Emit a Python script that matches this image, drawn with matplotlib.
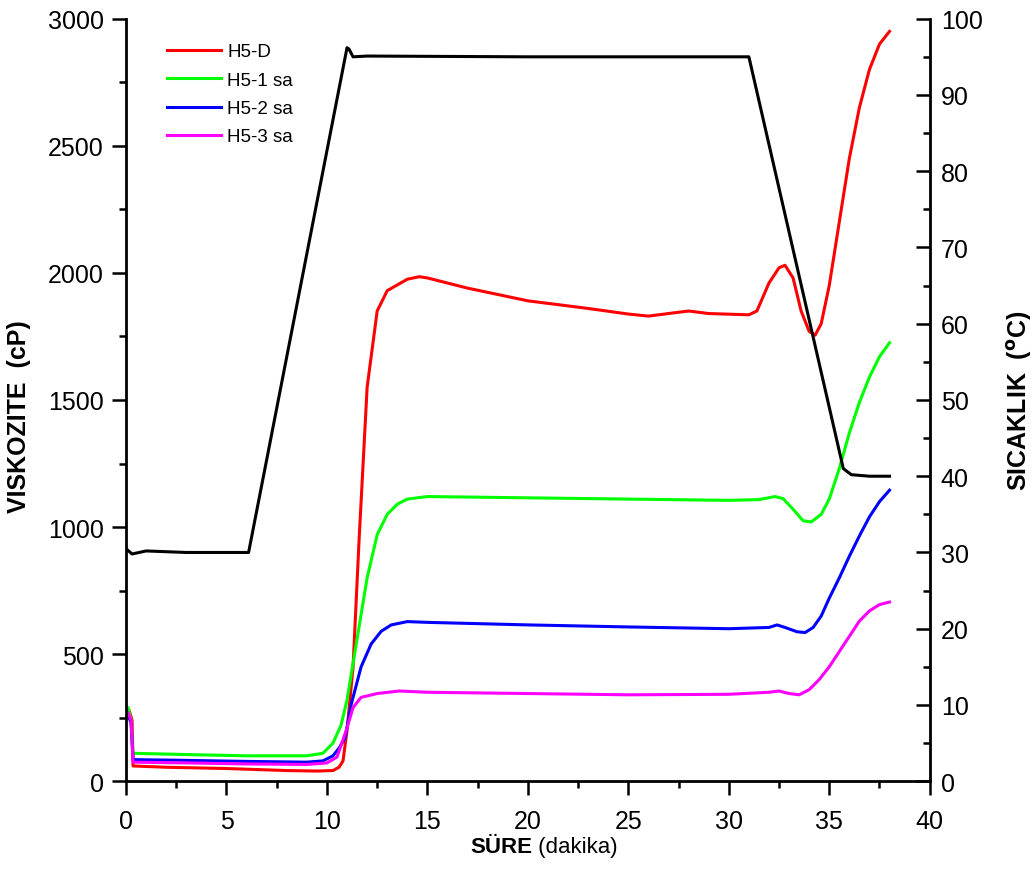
import numpy as np
import matplotlib.pyplot as plt
from matplotlib.ticker import MultipleLocator

plt.rcParams['font.family'] = ['Liberation Sans', 'DejaVu Sans']

# viskozite serileri (cP)
t_d = [0, 0.15, 0.3, 0.35, 2, 5, 8, 9.5, 10.3, 10.6, 10.8, 11.0, 11.3, 11.6, 12.0, 12.5, 13, 14, 14.6, 15,
       17, 20, 23, 25, 26, 27, 28, 29, 31, 31.4, 32, 32.5, 32.8, 33.2, 33.6, 34, 34.3, 34.6, 35, 35.5,
       36, 36.5, 37, 37.5, 38]
v_d = [270, 280, 240, 60, 55, 50, 42, 40, 42, 55, 80, 200, 450, 950, 1550, 1850, 1930, 1975, 1985, 1980,
       1940, 1890, 1860, 1838, 1830, 1840, 1850, 1840, 1835, 1850, 1960, 2020, 2030, 1980, 1850, 1770, 1755, 1800, 1950, 2200,
       2450, 2650, 2800, 2900, 2950]

t_1 = [0, 0.1, 0.25, 0.35, 3, 6, 9, 9.8, 10.3, 10.7, 11, 11.5, 12, 12.5, 13, 13.5, 14, 15, 20, 25, 30,
       31.5, 32.3, 32.7, 33.2, 33.7, 34.1, 34.6, 35, 35.5, 36, 36.5, 37, 37.5, 38]
v_1 = [260, 290, 240, 110, 105, 100, 100, 110, 150, 220, 320, 560, 800, 970, 1050, 1090, 1110, 1120, 1115, 1110, 1105,
       1108, 1120, 1112, 1070, 1025, 1020, 1050, 1110, 1230, 1370, 1490, 1590, 1670, 1725]

t_2 = [0, 0.1, 0.25, 0.35, 3, 6, 9, 9.8, 10.3, 10.6, 10.9, 11.2, 11.7, 12.2, 12.7, 13.2, 14, 15, 20, 25, 30,
       32, 32.4, 32.8, 33.4, 33.8, 34.2, 34.6, 35, 35.5, 36, 36.5, 37, 37.5, 38]
v_2 = [250, 260, 230, 85, 82, 78, 75, 80, 100, 130, 170, 300, 450, 540, 590, 615, 628, 625, 615, 607, 600,
       605, 615, 605, 588, 585, 605, 650, 720, 800, 885, 965, 1040, 1100, 1145]

t_3 = [0, 0.1, 0.25, 0.35, 3, 6, 9, 10, 10.5, 11, 11.3, 11.7, 12.5, 13.6, 15, 20, 25, 30,
       32, 32.5, 33, 33.5, 34, 34.5, 35, 35.5, 36, 36.5, 37, 37.5, 38]
v_3 = [260, 270, 240, 75, 72, 68, 66, 72, 95, 210, 290, 330, 345, 355, 350, 345, 340, 342,
       350, 355, 345, 340, 360, 400, 450, 510, 570, 630, 670, 695, 705]

# sicaklik (C)
t_T = [0, 0.3, 1, 3, 6.1, 11.0, 11.1, 11.3, 12, 20, 31.0, 35.7, 36.1, 37, 38]
T = [30.5, 29.8, 30.2, 30, 30, 96.2, 96, 95, 95.1, 95, 95, 41, 40.2, 40, 40]

fig = plt.figure(figsize=(10.33, 8.95), dpi=100)
ax = fig.add_axes([0.122, 0.126, 0.778, 0.852])
ax2 = ax.twinx()

lw = 2.2
ax.plot(t_d, v_d, color='#ff0000', lw=lw, label='H5-D')
ax.plot(t_1, v_1, color='#00ff00', lw=lw, label='H5-1 sa')
ax.plot(t_2, v_2, color='#0000ff', lw=lw, label='H5-2 sa')
ax.plot(t_3, v_3, color='#ff00ff', lw=lw, label='H5-3 sa')
ax2.plot(t_T, T, color='black', lw=lw)

ax.set_xlim(0, 40)
ax.set_ylim(0, 3000)
ax2.set_ylim(0, 100)
ax.xaxis.set_major_locator(MultipleLocator(5))
ax.xaxis.set_minor_locator(MultipleLocator(2.5))
ax.yaxis.set_major_locator(MultipleLocator(500))
ax.yaxis.set_minor_locator(MultipleLocator(250))
ax2.yaxis.set_major_locator(MultipleLocator(10))
ax2.yaxis.set_minor_locator(MultipleLocator(5))

for a in (ax, ax2):
    a.spines['top'].set_visible(False)
    for s in a.spines.values():
        s.set_linewidth(2)
ax.spines['right'].set_visible(False)
ax2.spines['left'].set_visible(False)
ax2.spines['bottom'].set_visible(False)

ax.tick_params(axis='both', which='major', direction='out', length=10, width=1.8, labelsize=18, pad=6)
ax.tick_params(axis='both', which='minor', direction='out', length=5, width=1.8)
ax.tick_params(axis='x', which='major', pad=10)
ax2.tick_params(axis='y', which='major', direction='in', length=10, width=1.8, labelsize=18, pad=8)
ax2.tick_params(axis='y', which='minor', direction='in', length=5, width=1.8)

# x ekseni basligi: SÜRE kalin, (dakika) normal
fig.text(0.515, 0.053, 'SÜRE', fontsize=16, fontweight='bold', ha='right', va='center')
fig.text(0.515, 0.053, ' (dakika)', fontsize=16, ha='left', va='center')
ax.set_ylabel('VISKOZITE  (cP)', fontsize=18, fontweight='bold')
ax.yaxis.set_label_coords(-0.118, 0.48)
ax2.set_ylabel(r'SICAKLIK  ($^{\mathbf{o}}$C)', fontsize=18, fontweight='bold')
ax2.yaxis.set_label_coords(1.094, 0.5)

ax.legend(loc='upper left', bbox_to_anchor=(0.03, 0.99), frameon=False, fontsize=13.5,
          handlelength=2.9, handletextpad=0.3, labelspacing=0.6)

fig.savefig('out.png', dpi=100)
